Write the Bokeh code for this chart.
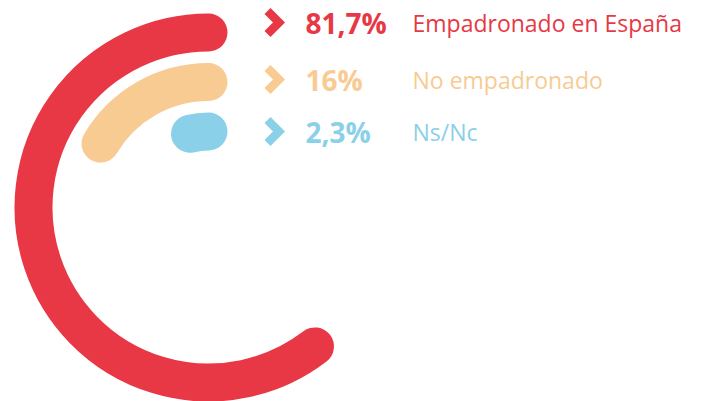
import math
from bokeh.plotting import figure
from bokeh.models import Range1d, ColumnDataSource
from bokeh.core.properties import value
from bokeh.embed import file_html
from bokeh.resources import INLINE

# ---- data ----
categories = ["Empadronado en España", "No empadronado", "Ns/Nc"]
values = [81.7, 16.0, 2.3]
value_labels = ["81,7%", "16%", "2,3%"]
colors = ["#E83845", "#F8CB93", "#8BD0E9"]

# ---- layout (screen-like coordinates: x right, y measured from window top) ----
W, H = 702, 401
CX, CY = 208, 207          # ring centre (window px)
R0, STEP = 175, 49.5       # outer ring radius and spacing
RING_W = 38                # stroke width
ARC_PER_PCT = 8.13         # arc length (px) per percentage point
ROW_Y = [22, 79, 131]
CHEV_X = 273
PCT_X = 305
LBL_X = 412

def fy(sy):
    return H - sy

p = figure(width=W, height=H, output_backend="svg", toolbar_location=None,
           x_range=Range1d(0, W), y_range=Range1d(0, H),
           min_border=0, outline_line_color=None)
p.axis.visible = False
p.grid.visible = False
p.background_fill_color = "white"
p.border_fill_color = "white"

radii = [R0 - i * STEP for i in range(len(values))]
starts = [math.pi / 2] * len(values)
ends = [math.pi / 2 + v * ARC_PER_PCT / r for v, r in zip(values, radii)]

src = ColumnDataSource(dict(x=[CX] * len(values), y=[fy(CY)] * len(values),
                            r=radii, s=starts, e=ends, c=colors))
p.arc(x="x", y="y", radius="r", start_angle="s", end_angle="e", direction="anticlock",
      line_color="c", line_width=RING_W, line_cap="round", source=src)

# chevrons
xs = [[CHEV_X - 6, CHEV_X + 5.5, CHEV_X - 6] for _ in values]
ys = [[fy(y - 11.5), fy(y), fy(y + 11.5)] for y in ROW_Y]
p.multi_line(xs=xs, ys=ys, line_color=colors, line_width=8.5,
             line_join="miter", line_cap="butt")

# percentages
p.text(x=[PCT_X] * len(values), y=[fy(y) for y in ROW_Y], text=value_labels,
       text_color=colors, text_font=value("Open Sans"), text_font_style="bold",
       text_font_size="28px", text_baseline="middle", text_align="left")

# category labels
p.text(x=[LBL_X] * len(values), y=[fy(y) for y in ROW_Y], text=categories,
       text_color=colors, text_font=value("Open Sans"),
       text_font_size="23px", text_baseline="middle", text_align="left")

open("out.html", "w").write(file_html(p, INLINE))
